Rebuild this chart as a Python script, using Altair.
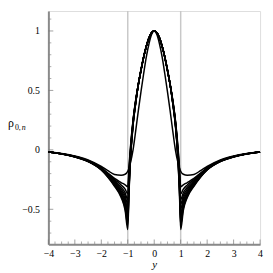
import altair as alt
import pandas as pd

# half-curve sample positions (curves are symmetric about y = 0)
x_half = [0, 0.1, 0.2, 0.3, 0.4, 0.5, 0.6, 0.7, 0.8, 0.9, 0.95, 1.0,
          1.1, 1.25, 1.5, 1.75, 2.0, 2.5, 3.0, 3.5, 4.0]

curves = {
    "n1":  [1, 0.97, 0.89, 0.78, 0.64, 0.49, 0.33, 0.16, 0.0, -0.11, -0.15, -0.18,
            -0.205, -0.213, -0.207, -0.175, -0.14, -0.085, -0.052, -0.031, -0.016],
    "n2":  [1, 0.985, 0.94, 0.87, 0.78, 0.67, 0.55, 0.42, 0.25, 0.02, -0.13, -0.31,
            -0.295, -0.275, -0.24, -0.195, -0.15, -0.09, -0.055, -0.032, -0.017],
    "n3":  [1, 0.985, 0.94, 0.87, 0.78, 0.67, 0.55, 0.415, 0.245, 0.0, -0.16, -0.37,
            -0.33, -0.295, -0.25, -0.20, -0.153, -0.091, -0.056, -0.032, -0.017],
    "n4":  [1, 0.985, 0.94, 0.87, 0.78, 0.67, 0.55, 0.41, 0.24, -0.02, -0.19, -0.42,
            -0.36, -0.315, -0.26, -0.205, -0.156, -0.092, -0.056, -0.033, -0.017],
    "n5":  [1, 0.985, 0.94, 0.87, 0.78, 0.67, 0.55, 0.41, 0.235, -0.03, -0.21, -0.46,
            -0.385, -0.33, -0.268, -0.21, -0.158, -0.093, -0.057, -0.033, -0.018],
    "n6":  [1, 0.985, 0.94, 0.87, 0.78, 0.67, 0.55, 0.405, 0.23, -0.045, -0.24, -0.50,
            -0.41, -0.345, -0.275, -0.214, -0.16, -0.094, -0.057, -0.033, -0.018],
    "n7":  [1, 0.985, 0.94, 0.87, 0.78, 0.67, 0.55, 0.40, 0.225, -0.055, -0.26, -0.54,
            -0.43, -0.36, -0.282, -0.218, -0.162, -0.095, -0.058, -0.034, -0.018],
    "n8":  [1, 0.985, 0.94, 0.87, 0.78, 0.67, 0.55, 0.40, 0.22, -0.065, -0.28, -0.57,
            -0.45, -0.37, -0.288, -0.221, -0.164, -0.096, -0.058, -0.034, -0.018],
    "n9":  [1, 0.985, 0.94, 0.87, 0.78, 0.67, 0.55, 0.395, 0.215, -0.075, -0.30, -0.60,
            -0.47, -0.38, -0.294, -0.224, -0.166, -0.097, -0.059, -0.034, -0.019],
    "n10": [1, 0.985, 0.94, 0.87, 0.78, 0.67, 0.55, 0.395, 0.21, -0.085, -0.32, -0.63,
            -0.49, -0.39, -0.30, -0.227, -0.168, -0.098, -0.059, -0.034, -0.019],
    "n11": [1, 0.985, 0.94, 0.87, 0.78, 0.67, 0.55, 0.39, 0.205, -0.095, -0.34, -0.67,
            -0.51, -0.40, -0.306, -0.23, -0.17, -0.099, -0.06, -0.035, -0.019],
}

vlines = [-1, 1]
x_major = [-4, -3, -2, -1, 0, 1, 2, 3, 4]
x_minor = [-3.75, -3.5, -3.25, -2.75, -2.5, -2.25, -1.75, -1.5, -1.25, -0.75, -0.5, -0.25,
           0.25, 0.5, 0.75, 1.25, 1.5, 1.75, 2.25, 2.5, 2.75, 3.25, 3.5, 3.75]
y_major = [-0.5, 0, 0.5, 1]
y_minor = [-0.7, -0.6, -0.4, -0.3, -0.2, -0.1, 0.1, 0.2, 0.3, 0.4, 0.6, 0.7, 0.8, 0.9, 1.1]

W, H = 215, 237
XD, YD = [-4, 4], [-0.795, 1.168]

rows = []
for name, vals in curves.items():
    for xv, yv in zip(x_half[:0:-1], vals[:0:-1]):
        rows.append({"curve": name, "x": -xv, "v": yv})
    for xv, yv in zip(x_half, vals):
        rows.append({"curve": name, "x": xv, "v": yv})
df = pd.DataFrame(rows)

xs = alt.Scale(domain=XD, nice=False, zero=False)
ys = alt.Scale(domain=YD, nice=False, zero=False)

serif = "Liberation Serif"

xaxis = alt.Axis(values=x_major, format="~g", ticks=False, grid=False, labelFlush=False,
                 labelFont=serif, labelFontSize=10, labelColor="black", labelPadding=4,
                 domainColor="#8a8a8a", domainWidth=2, title="y", titleFont=serif,
                 titleFontStyle="italic", titleFontWeight="normal", titleFontSize=11,
                 titlePadding=0, titleColor="black", labelOverlap=False)
yaxis = alt.Axis(values=y_major, format="~g", ticks=False, grid=False, labelFlush=False,
                 labelFont=serif, labelFontSize=10, labelColor="black", labelPadding=9,
                 domainColor="#8a8a8a", domainWidth=2, title=None, labelOverlap=False)

X = lambda f: alt.X(f, scale=xs, axis=xaxis, title="y")
Y = lambda f: alt.Y(f, scale=ys, axis=yaxis, title=None)

vl = alt.Chart(pd.DataFrame({"x": vlines})).mark_rule(color="#c8c8c8", strokeWidth=1.5).encode(
    x=X("x:Q"))

lines = alt.Chart(df).mark_line(color="black", strokeWidth=1.5, interpolate="monotone").encode(
    x=X("x:Q"),
    y=Y("v:Q"),
    detail="curve:N",
    order="x:Q",
)

xt_major = alt.Chart(pd.DataFrame({"t": x_major})).mark_tick(size=5, thickness=1, color="#777").encode(
    x=X("t:Q"), y=alt.value(H - 2.5))
xt_minor = alt.Chart(pd.DataFrame({"t": x_minor})).mark_tick(size=3, thickness=1, color="#888").encode(
    x=X("t:Q"), y=alt.value(H - 1.5))
yt_major = alt.Chart(pd.DataFrame({"t": y_major})).mark_tick(size=5, thickness=1, color="#777").encode(
    y=Y("t:Q"), x=alt.value(2.5))
yt_minor = alt.Chart(pd.DataFrame({"t": y_minor})).mark_tick(size=3, thickness=1, color="#888").encode(
    y=Y("t:Q"), x=alt.value(1.5))

rho = alt.Chart(pd.DataFrame({"s": ["ρ"]})).mark_text(font=serif, fontSize=12, align="left",
                                                     baseline="alphabetic", color="black").encode(
    text="s:N", x=alt.value(-41), y=alt.value(118))
sub0 = alt.Chart(pd.DataFrame({"s": ["0,"]})).mark_text(font=serif, fontSize=8, align="left",
                                                       baseline="alphabetic", color="black").encode(
    text="s:N", x=alt.value(-34), y=alt.value(121))
subn = alt.Chart(pd.DataFrame({"s": ["n"]})).mark_text(font=serif, fontSize=8, fontStyle="italic",
                                                      align="left", baseline="alphabetic",
                                                      color="black").encode(
    text="s:N", x=alt.value(-27), y=alt.value(121))

chart = alt.layer(vl, lines, xt_major, xt_minor, yt_major, yt_minor, rho, sub0, subn).properties(
    width=W, height=H,
    autosize="none",
    padding={"left": 41, "top": 1, "right": 5, "bottom": 24},
).configure_view(stroke="#444", strokeWidth=1).configure(background="white")

chart.save("out.html", embed_options={"renderer": "svg", "actions": False})
